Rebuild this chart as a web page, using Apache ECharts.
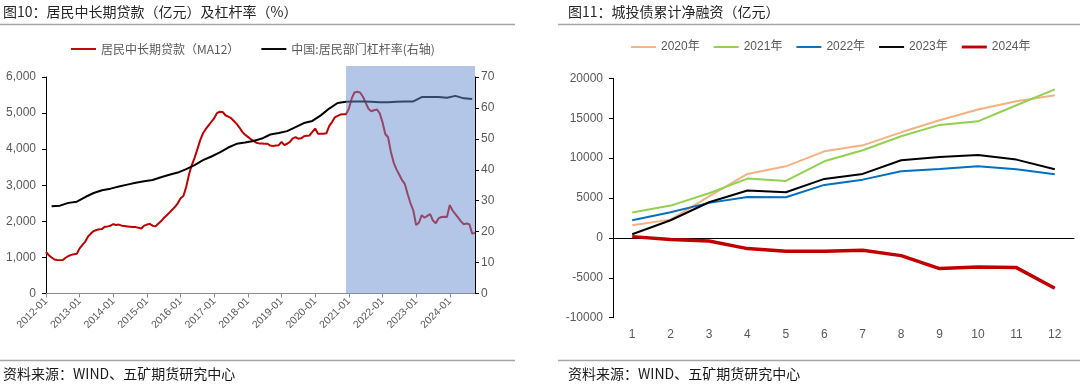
<!DOCTYPE html>
<html><head><meta charset="utf-8">
<script src="https://cdn.jsdelivr.net/npm/echarts@6/dist/echarts.min.js"></script>
<style>html,body{margin:0;padding:0;background:#fff}#c{width:1080px;height:385px}</style>
</head><body><div id="c"></div>
<script>
// ---------- Left chart data ----------
const startYear = 2012, monthCount = 154; // 2012-01 .. 2024-10
const loanMA12 = [
1150,1060,1000,940,930,925,930,990,1040,1070,
1090,1100,1250,1350,1440,1580,1660,1730,1760,1780,
1790,1850,1860,1880,1920,1900,1910,1880,1870,1860,
1850,1840,1840,1820,1800,1880,1910,1930,1880,1860,
1930,2000,2090,2160,2240,2320,2400,2500,2640,2700,
2950,3300,3560,3760,4000,4250,4440,4560,4660,4760,
4860,5000,5040,5030,4940,4900,4860,4780,4700,4600,
4480,4400,4340,4280,4230,4180,4160,4160,4150,4150,
4100,4090,4100,4110,4200,4110,4150,4200,4300,4330,
4290,4300,4360,4370,4380,4480,4570,4430,4430,4430,
4440,4640,4750,4880,4920,4960,4970,4970,5120,5400,
5570,5590,5570,5460,5290,5120,5050,5080,5100,5000,
4750,4420,4330,3920,3630,3440,3290,3140,3030,2750,
2500,2300,1900,1960,2170,2100,2150,2200,2020,1950,
2080,2120,2130,2120,2450,2300,2200,2100,2000,1920,
1940,1920,1660,1680
];
// quarterly leverage ratio, 2012-03 .. 2024-09
const leverageValues = [
28.2,28.4,29.3,29.7,31.2,32.5,33.4,33.9,34.6,35.2,
35.8,36.3,36.7,37.6,38.4,39.1,40.2,41.5,43.1,44.3,
45.6,47.2,48.4,48.8,49.3,50.1,51.4,51.9,52.5,53.8,
55.1,55.8,57.6,59.8,61.6,62.0,62.1,62.1,62.0,61.8,
61.8,62.0,62.1,62.1,63.5,63.5,63.5,63.3,63.9,63.1,62.9
];
const shadeFrom = '2020-12', shadeTo = '2024-10';
const leftNames = ['居民中长期贷款（MA12）', '中国:居民部门杠杆率(右轴)'];

// ---------- Right chart data ----------
const monthLabels = ['1','2','3','4','5','6','7','8','9','10','11','12'];
const y2020 = [1580,2290,5200,8020,8970,10850,11600,13230,14740,16080,17120,17870];
const y2021 = [3170,4050,5600,7430,7140,9600,10980,12730,14160,14610,16620,18620];
const y2022 = [2210,3210,4390,5130,5100,6640,7300,8350,8640,8970,8600,7970];
const y2023 = [450,2210,4470,5930,5720,7390,8020,9730,10150,10400,9810,8600];
const y2024 = [160,-210,-380,-1340,-1670,-1670,-1550,-2220,-3850,-3640,-3720,-6310];
const rightNames = ['2020年','2021年','2022年','2023年','2024年'];
const rightColors = ['#f4b183','#92d050','#0070c0','#000000','#c00000'];

// ---------- build categories ----------
const pad = n => (n < 10 ? '0' : '') + n;
const monthCats = [];
for (let i = 0; i < monthCount; i++) {
  monthCats.push((startYear + Math.floor(i / 12)) + '-' + pad(i % 12 + 1));
}
const leverageData = leverageValues.map((v, k) => [monthCats[2 + 3 * k], v]);

const FONT = '"Liberation Sans", "Noto Sans CJK SC", sans-serif';
const CJK = '"Noto Sans CJK SC", sans-serif';
const labelColor = '#595959';

const chart = echarts.init(document.getElementById('c'), null, {renderer: 'canvas'});
chart.setOption({
  animation: false,
  backgroundColor: '#ffffff',
  textStyle: {fontFamily: FONT},
  graphic: [
    {type: 'text', left: 3, top: 5, style: {text: '图10：居民中长期贷款（亿元）及杠杆率（%）', font: '14px ' + CJK, fill: '#262626'}},
    {type: 'line', shape: {x1: 0, y1: 24.5, x2: 515, y2: 24.5}, style: {stroke: '#a6a6a6', lineWidth: 1.5}},
    {type: 'text', left: 568, top: 5, style: {text: '图11：城投债累计净融资（亿元）', font: '14px ' + CJK, fill: '#262626'}},
    {type: 'line', shape: {x1: 558, y1: 24.5, x2: 1080, y2: 24.5}, style: {stroke: '#a6a6a6', lineWidth: 1.5}},
    {type: 'line', shape: {x1: 0, y1: 360.5, x2: 515, y2: 360.5}, style: {stroke: '#a6a6a6', lineWidth: 1.5}},
    {type: 'line', shape: {x1: 558, y1: 360.5, x2: 1080, y2: 360.5}, style: {stroke: '#a6a6a6', lineWidth: 1.5}},
    {type: 'text', left: 3, top: 367, style: {text: '资料来源：WIND、五矿期货研究中心', font: '14px ' + CJK, fill: '#1a1a1a'}},
    {type: 'text', left: 568, top: 367, style: {text: '资料来源：WIND、五矿期货研究中心', font: '14px ' + CJK, fill: '#1a1a1a'}}
  ],
  legend: [
    {
      left: 66, top: 38, itemWidth: 25, itemHeight: 12, itemGap: 22,
      textStyle: {color: labelColor, fontSize: 12, fontFamily: CJK},
      data: [
        {name: leftNames[0], icon: 'path://M0,0H26V2H0Z'},
        {name: leftNames[1], icon: 'path://M0,0H26V2H0Z'}
      ]
    },
    {
      left: 626, top: 36, itemWidth: 25, itemHeight: 12, itemGap: 14,
      textStyle: {color: labelColor, fontSize: 12, fontFamily: FONT},
      data: rightNames.map((n, i) => ({name: n, icon: i === 4 ? 'path://M0,0H26V3H0Z' : 'path://M0,0H26V2H0Z'}))
    }
  ],
  grid: [
    {left: 46, top: 77, width: 429, height: 216.5, outerBoundsMode: 'none', containLabel: false},
    {left: 613, top: 78.3, width: 461, height: 239.4, outerBoundsMode: 'none', containLabel: false}
  ],
  xAxis: [
    {
      gridIndex: 0, type: 'category', data: monthCats, boundaryGap: false,
      axisLine: {lineStyle: {color: '#8c8c8c', width: 1}},
      axisTick: {interval: 11, length: 4, lineStyle: {color: '#8c8c8c'}},
      axisLabel: {interval: 11, rotate: 45, margin: 6, color: labelColor, fontSize: 10.5, fontFamily: FONT},
      splitLine: {show: false}
    },
    {
      gridIndex: 1, type: 'category', data: monthLabels, boundaryGap: true, position: 'bottom',
      axisLine: {onZero: true, lineStyle: {color: '#000', width: 1}},
      axisTick: {length: 4, lineStyle: {color: '#000'}},
      axisLabel: {show: false},
      splitLine: {show: false}
    },
    {
      gridIndex: 1, type: 'category', data: monthLabels, boundaryGap: true, position: 'bottom',
      axisLine: {show: false, onZero: false},
      axisTick: {show: false},
      axisLabel: {margin: 11, color: labelColor, fontSize: 12, fontFamily: FONT},
      splitLine: {show: false}
    }
  ],
  yAxis: [
    {
      gridIndex: 0, type: 'value', min: 0, max: 6000, interval: 1000, position: 'left',
      axisLine: {show: true, lineStyle: {color: '#000', width: 1}},
      axisTick: {show: true, length: 4, lineStyle: {color: '#000'}},
      axisLabel: {color: labelColor, fontSize: 12, margin: 10, fontFamily: FONT},
      splitLine: {show: false}
    },
    {
      gridIndex: 0, type: 'value', min: 0, max: 70, interval: 10, position: 'right',
      axisLine: {show: true, lineStyle: {color: '#000', width: 1}},
      axisTick: {show: true, length: 4, lineStyle: {color: '#000'}},
      axisLabel: {color: labelColor, fontSize: 12, margin: 6, fontFamily: FONT},
      splitLine: {show: false}
    },
    {
      gridIndex: 1, type: 'value', min: -10000, max: 20000, interval: 5000,
      axisLine: {show: true, lineStyle: {color: '#000', width: 1}},
      axisTick: {show: true, length: 4, lineStyle: {color: '#000'}},
      axisLabel: {color: labelColor, fontSize: 12, margin: 10, fontFamily: FONT, formatter: v => String(v)},
      splitLine: {show: false}
    }
  ],
  series: [
    {
      name: leftNames[0], type: 'line', xAxisIndex: 0, yAxisIndex: 0,
      data: loanMA12, symbol: 'none', color: '#c00000',
      lineStyle: {color: '#c00000', width: 2}, z: 2
    },
    {
      name: leftNames[1], type: 'line', xAxisIndex: 0, yAxisIndex: 1,
      data: leverageData, symbol: 'none', color: '#000000',
      lineStyle: {color: '#000000', width: 2}, z: 3,
      markArea: {
        silent: true, z: 10,
        itemStyle: {color: 'rgba(105,141,207,0.5)'},
        data: [[{xAxis: shadeFrom, y: 66}, {xAxis: shadeTo, yAxis: 0}]]
      }
    }
  ].concat([y2020, y2021, y2022, y2023, y2024].map((arr, i) => ({
    name: rightNames[i], type: 'line', xAxisIndex: 1, yAxisIndex: 2,
    data: arr, symbol: 'none', color: rightColors[i],
    lineStyle: {color: rightColors[i], width: i === 4 ? 3.5 : 2}, z: 2 + i
  })))
});
</script></body></html>
